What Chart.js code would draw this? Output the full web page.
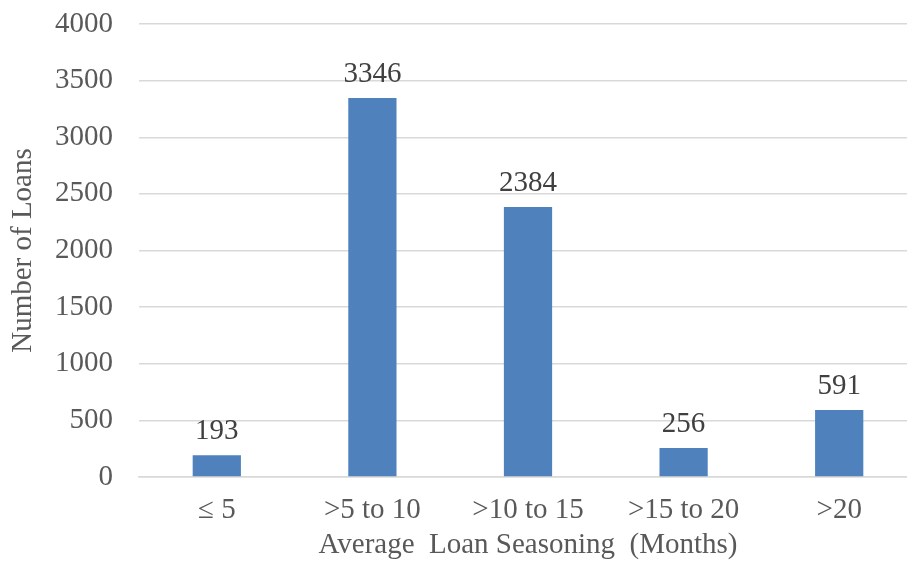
<!DOCTYPE html>
<html><head><meta charset="utf-8">
<script src="https://cdn.jsdelivr.net/npm/chart.js@4/dist/chart.umd.min.js"></script>
<style>html,body{margin:0;padding:0;overflow:hidden;background:#fff}#wrap{width:917px;height:563px}</style>
</head><body><div id="wrap"><canvas id="c" width="917" height="563"></canvas></div>
<script>
const categories = ["\u2264 5", ">5 to 10", ">10 to 15", ">15 to 20", ">20"];
const loanCounts = [193, 3346, 2384, 256, 591];
const yTicks = [0, 500, 1000, 1500, 2000, 2500, 3000, 3500, 4000];

const FONT = "'Liberation Serif', 'Times New Roman', serif";
const FS = 29;
const labelPlugin = {
  id: 'barLabels',
  afterDatasetsDraw(chart) {
    const ctx = chart.ctx;
    const meta = chart.getDatasetMeta(0);
    ctx.save();
    ctx.font = FS + "px " + FONT;
    ctx.fillStyle = '#404040';
    ctx.textAlign = 'center';
    ctx.textBaseline = 'alphabetic';
    meta.data.forEach((bar, i) => {
      ctx.fillText(String(loanCounts[i]), bar.x, bar.y - 16);
    });
    ctx.restore();
  }
};

new Chart(document.getElementById('c'), {
  type: 'bar',
  data: { labels: categories, datasets: [{ data: loanCounts, backgroundColor: '#4f81bd', categoryPercentage: 1, barPercentage: 0.31 }] },
  options: {
    responsive: false, animation: false,
    layout: { padding: { top: 24, left: 0, right: 0, bottom: 0 } },
    plugins: { legend: { display: false }, tooltip: { enabled: false } },
    scales: {
      y: {
        min: 0, max: 4000,
        afterBuildTicks(s) { s.ticks = yTicks.map(v => ({ value: v })); },
        afterFit(s) { s.width = 139; s.paddingTop = 0; s.paddingBottom = 0; },
        grid: { color: '#d9d9d9', lineWidth: 1.5, drawTicks: false },
        border: { display: false },
        ticks: { color: '#595959', font: { family: FONT, size: FS }, padding: 26, callback: v => String(v) },
        title: { display: true, text: 'Number of Loans', color: '#595959', font: { family: FONT, size: FS }, padding: { top: 6, bottom: 0 } }
      },
      x: {
        afterFit(s) { s.height = 86; s.paddingLeft = 0; s.paddingRight = 0; },
        grid: { display: false, drawTicks: false },
        border: { display: true, color: '#d9d9d9', width: 1.5 },
        ticks: { color: '#595959', font: { family: FONT, size: FS }, padding: 16, maxRotation: 0 },
        title: { display: true, text: 'Average  Loan Seasoning  (Months)', color: '#595959', font: { family: FONT, size: FS }, padding: { top: 0, bottom: 0 } }
      }
    }
  },
  plugins: [labelPlugin]
});
</script></body></html>
